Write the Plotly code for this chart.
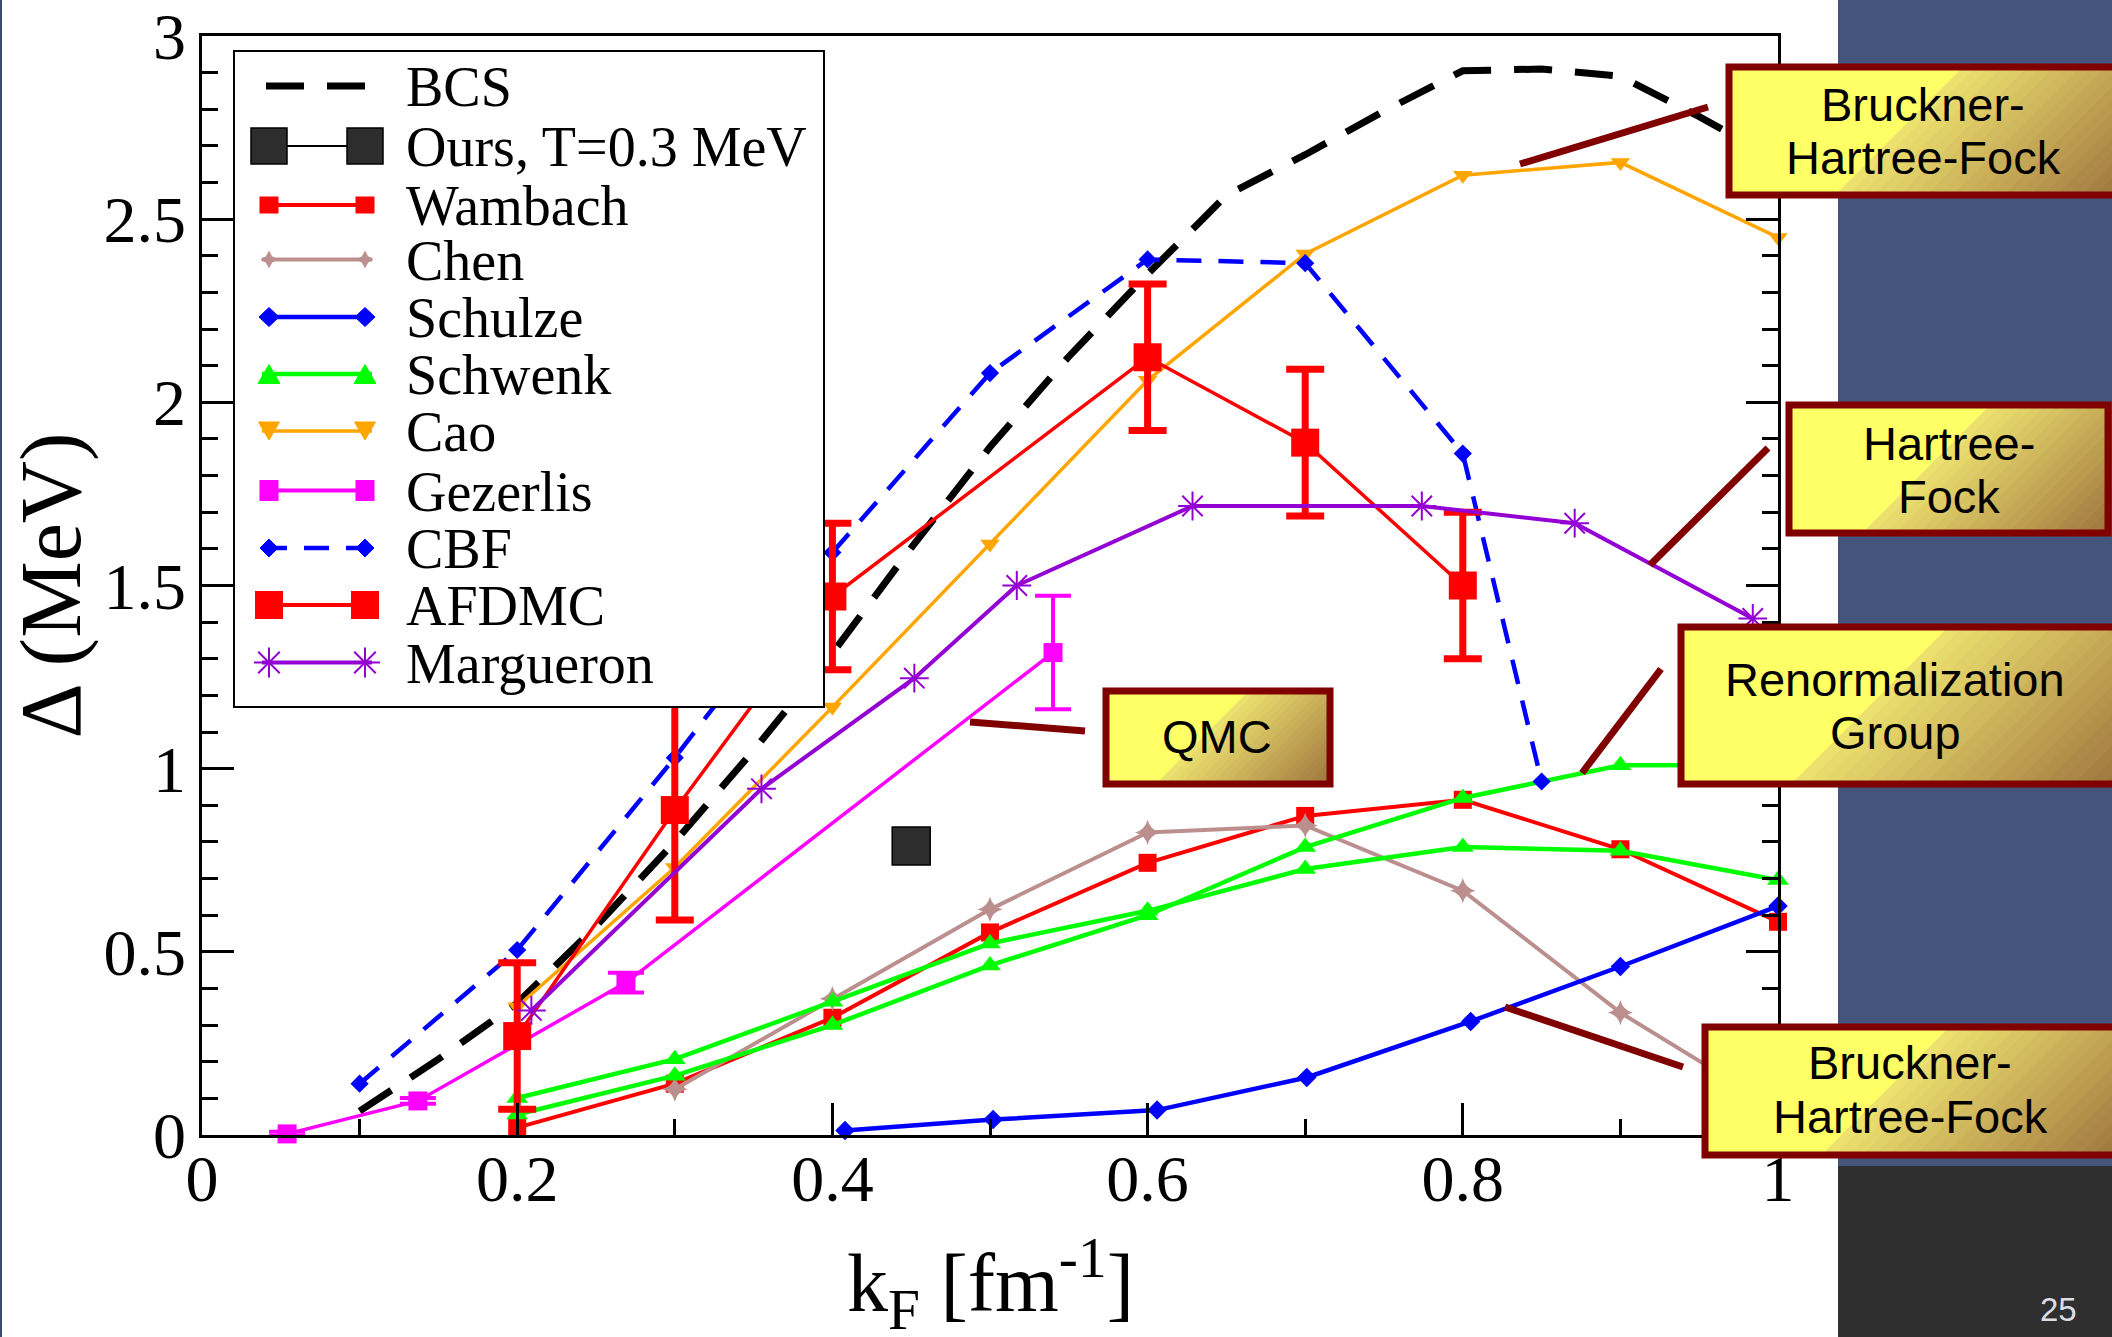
import plotly.graph_objects as go

# Neutron-matter pairing gap Delta (MeV) versus Fermi momentum k_F (fm^-1)

bcs_kf = [0.10, 0.15, 0.20, 0.25, 0.30, 0.35, 0.40, 0.45, 0.50, 0.55,
          0.60, 0.65, 0.70, 0.75, 0.80, 0.85, 0.90, 0.95, 1.00]
bcs_gap = [0.065, 0.207, 0.36, 0.57, 0.80, 1.05, 1.315, 1.603, 1.878, 2.125,
           2.35, 2.565, 2.676, 2.795, 2.905, 2.91, 2.89, 2.78, 2.66]

ours_kf = [0.45]
ours_gap = [0.789]

wambach_kf = [0.2, 0.3, 0.4, 0.5, 0.6, 0.7, 0.8, 0.9, 1.0]
wambach_gap = [0.02, 0.14, 0.32, 0.553, 0.743, 0.871, 0.915, 0.78, 0.582]

chen_kf = [0.3, 0.4, 0.5, 0.6, 0.7, 0.8, 0.9, 1.0]
chen_gap = [0.125, 0.372, 0.616, 0.826, 0.845, 0.667, 0.334, 0.07]

schulze_kf = [0.408, 0.502, 0.606, 0.701, 0.805, 0.9, 1.0]
schulze_gap = [0.012, 0.042, 0.068, 0.157, 0.31, 0.46, 0.625]

schwenk_kf = [0.2, 0.3, 0.4, 0.5, 0.6, 0.7, 0.8, 0.9, 1.0]
schwenk_gap_a = [0.101, 0.207, 0.364, 0.523, 0.612, 0.726, 0.786, 0.776, 0.696]
schwenk_gap_b = [0.056, 0.162, 0.30, 0.463, 0.600, 0.786, 0.92, 1.009, 1.01]

cao_kf = [0.2, 0.3, 0.4, 0.5, 0.6, 0.7, 0.8, 0.9, 1.0]
cao_gap = [0.35, 0.73, 1.168, 1.613, 2.06, 2.405, 2.62, 2.655, 2.45]

gezerlis_kf = [0.054, 0.137, 0.269, 0.54]
gezerlis_gap = [0.003, 0.093, 0.416, 1.317]
gezerlis_err = [0.006, 0.008, 0.027, 0.155]

cbf_kf = [0.1, 0.2, 0.3, 0.4, 0.5, 0.6, 0.7, 0.8, 0.85]
cbf_gap = [0.14, 0.505, 1.03, 1.59, 2.08, 2.39, 2.38, 1.86, 0.965]

afdmc_kf = [0.2, 0.3, 0.4, 0.6, 0.7, 0.8]
afdmc_gap = [0.27, 0.887, 1.47, 2.123, 1.89, 1.50]
afdmc_err = [0.2, 0.3, 0.2, 0.2, 0.2, 0.2]

margueron_kf = [0.209, 0.355, 0.452, 0.517, 0.6285, 0.774, 0.871, 0.984]
margueron_gap = [0.34, 0.945, 1.247, 1.50, 1.717, 1.717, 1.67, 1.41]

x_ticks = [0, 0.2, 0.4, 0.6, 0.8, 1]
x_tick_labels = ["0", "0.2", "0.4", "0.6", "0.8", "1"]
y_ticks = [0, 0.5, 1, 1.5, 2, 2.5, 3]
y_tick_labels = ["0", "0.5", "1", "1.5", "2", "2.5", "3"]

legend_names = ["BCS", "Ours, T=0.3 MeV", "Wambach", "Chen", "Schulze", "Schwenk",
                "Cao", "Gezerlis", "CBF", "AFDMC", "Margueron"]

method_labels = [
    ("Bruckner-", "Hartree-Fock"),
    ("Hartree-", "Fock"),
    ("Renormalization", "Group"),
    ("Bruckner-", "Hartree-Fock"),
    ("QMC",),
]

# ---------------------------------------------------------------- geometry
W, H = 2112, 1337
L, R, T, B = 202, 1778, 36, 1135
PW, PH = R - L, B - T
SERIF = "Liberation Serif"
SANS = "Liberation Sans"

RED, BLUE, GREEN = "#FF0000", "#0000FF", "#00FF00"
ORANGE, MAGENTA, BROWN, VIOLET = "#FFA500", "#FF00FF", "#BC8F8F", "#9400D3"
MAROON = "#800000"


def px(x):
    return (x - L) / PW


def py(y):
    return (B - y) / PH


fig = go.Figure()


def series(k, d, color, width, symbol=None, size=0, dash=None, err=None,
           err_thick=0, err_width=0, mline=0):
    kw = dict(x=k, y=d, cliponaxis=False, showlegend=False, hoverinfo="skip",
              line=dict(color=color, width=width, dash=dash))
    if symbol:
        kw["mode"] = "lines+markers"
        kw["marker"] = dict(symbol=symbol, size=size, color=color,
                            line=dict(color=color, width=mline))
    else:
        kw["mode"] = "lines"
    if err is not None:
        kw["error_y"] = dict(type="data", array=err, color=color,
                             thickness=err_thick, width=err_width)
    fig.add_trace(go.Scatter(**kw))


series(bcs_kf, bcs_gap, "black", 7, dash="38px,23px")
fig.add_trace(go.Scatter(x=ours_kf, y=ours_gap, mode="markers", cliponaxis=False,
                         showlegend=False, hoverinfo="skip",
                         marker=dict(symbol="square", size=38, color="#2d2d2d",
                                     line=dict(color="black", width=1.5))))
series(wambach_kf, wambach_gap, RED, 4, "square", 18)
series(chen_kf, chen_gap, BROWN, 4, "star-diamond", 18)
series(schulze_kf, schulze_gap, BLUE, 4.5, "diamond", 15)
series(schwenk_kf, schwenk_gap_a, GREEN, 4.5, "triangle-up", 19)
series(schwenk_kf, schwenk_gap_b, GREEN, 4.5, "triangle-up", 19)
series(cao_kf, cao_gap, ORANGE, 3.5, "triangle-down", 17)
series(gezerlis_kf, gezerlis_gap, MAGENTA, 3.5, "square", 19,
       err=gezerlis_err, err_thick=4, err_width=18)
series(cbf_kf, cbf_gap, BLUE, 4.5, "diamond", 14, dash="25px,17px")
series(afdmc_kf, afdmc_gap, RED, 3.5, "square", 28,
       err=afdmc_err, err_thick=7, err_width=19)
series(margueron_kf, margueron_gap, VIOLET, 4, "asterisk-open", 24, mline=2)

# ---------------------------------------------------------------- decorations
shapes = []

# slide background on the right and the thin frame on the left
shapes.append(dict(type="rect", xref="paper", yref="paper", x0=px(1838), x1=px(2120),
                   y0=py(1166), y1=py(-5), fillcolor="#43557B", line_width=0, layer="below"))
shapes.append(dict(type="rect", xref="paper", yref="paper", x0=px(1838), x1=px(2120),
                   y0=py(1345), y1=py(1166), fillcolor="#2F2F2F", line_width=0, layer="below"))
shapes.append(dict(type="rect", xref="paper", yref="paper", x0=px(-2), x1=px(2),
                   y0=py(1345), y1=py(-5), fillcolor="#3A4A6C", line_width=0, layer="below"))


def pix_rect(cx, cy, w, h, fill, lc=None, lw=0):
    return dict(type="rect", xref="paper", yref="paper", xsizemode="pixel",
                ysizemode="pixel", xanchor=px(cx), yanchor=py(cy),
                x0=-w / 2, x1=w / 2, y0=-h / 2, y1=h / 2, fillcolor=fill,
                line=dict(color=lc or fill, width=lw), layer="above")


def pix_path(cx, cy, path, fill, lc, lw):
    return dict(type="path", xref="paper", yref="paper", xsizemode="pixel",
                ysizemode="pixel", xanchor=px(cx), yanchor=py(cy), path=path,
                fillcolor=fill, line=dict(color=lc, width=lw), layer="above")


def diamond(w, h):
    return f"M0,{h/2} L{w/2},0 L0,{-h/2} L{-w/2},0 Z"


def tri_up(w, h):
    return f"M{-w/2},{-h/2} L{w/2},{-h/2} L0,{h/2} Z"


def tri_down(w, h):
    return f"M{-w/2},{h/2} L{w/2},{h/2} L0,{-h/2} Z"


def star4(r):
    q = r * 0.35
    return (f"M0,{r} L{q},{q} L{r},0 L{q},{-q} L0,{-r} L{-q},{-q} "
            f"L{-r},0 L{-q},{q} Z")


def asterisk(r):
    d = r * 0.72
    return (f"M{-r},0 L{r},0 M0,{-r} L0,{r} M{-d},{-d} L{d},{d} "
            f"M{-d},{d} L{d},{-d}")


# legend frame
shapes.append(dict(type="rect", xref="paper", yref="paper", x0=px(234), x1=px(824),
                   y0=py(707), y1=py(51), fillcolor="white",
                   line=dict(color="black", width=2), layer="above"))

rows_y = [86, 146, 205, 259.5, 317, 374, 431, 490.5, 548, 605, 662.5]
lx0, lx1 = 262, 372
mk = (269, 365)
line_styles = [
    ("black", 7, "38px,23px"), ("black", 2, None), (RED, 4, None),
    (BROWN, 4, None), (BLUE, 4.5, None), (GREEN, 4.5, None),
    (ORANGE, 3.5, None), (MAGENTA, 4, None), (BLUE, 4.5, "25px,17px"),
    (RED, 4, None), (VIOLET, 4, None),
]
for i, (ry, (c, w, dsh)) in enumerate(zip(rows_y, line_styles)):
    x0 = 266 if i == 0 else lx0
    x1 = 366 if i == 0 else lx1
    shapes.append(dict(type="line", xref="paper", yref="paper", x0=px(x0), x1=px(x1),
                       y0=py(ry), y1=py(ry), line=dict(color=c, width=w, dash=dsh),
                       layer="above"))
    for cx in mk:
        if i == 1:
            shapes.append(pix_rect(cx, ry, 36, 36, "#2d2d2d", "black", 1.5))
        elif i == 2:
            shapes.append(pix_rect(cx, ry, 19, 17, RED))
        elif i == 3:
            shapes.append(pix_path(cx, ry, star4(8), BROWN, BROWN, 1))
        elif i == 4:
            shapes.append(pix_path(cx, ry, diamond(20, 19), BLUE, BLUE, 1))
        elif i == 5:
            shapes.append(pix_path(cx, ry, tri_up(22, 19), GREEN, GREEN, 1))
        elif i == 6:
            shapes.append(pix_path(cx, ry, tri_down(21, 18), ORANGE, ORANGE, 1))
        elif i == 7:
            shapes.append(pix_rect(cx, ry, 19, 21, MAGENTA))
        elif i == 8:
            shapes.append(pix_path(cx, ry, diamond(18, 18), BLUE, BLUE, 1))
        elif i == 9:
            shapes.append(pix_rect(cx, ry, 28, 28, RED))
        elif i == 10:
            shapes.append(pix_path(cx, ry, asterisk(15), "rgba(0,0,0,0)", VIOLET, 2))

annotations = []
for name, ry in zip(legend_names, rows_y):
    annotations.append(dict(text=name, x=px(404), y=py(ry + 1), xref="paper",
                            yref="paper", xanchor="left", yanchor="middle",
                            showarrow=False, font=dict(family=SERIF, size=56, color="black")))

# leader lines from the method labels to the curves
leaders = [
    (1520, 164, 1708, 107),
    (1650, 565, 1768, 448),
    (1582, 773, 1661, 669),
    (1505, 1007, 1683, 1067),
    (970, 722, 1085, 731),
]
for x0, y0, x1, y1 in leaders:
    shapes.append(dict(type="line", xref="paper", yref="paper", x0=px(x0), y0=py(y0),
                       x1=px(x1), y1=py(y1), line=dict(color=MAROON, width=7),
                       layer="above"))


def mix(c0, c1, f):
    return "rgb(%d,%d,%d)" % tuple(round(a + (b - a) * f) for a, b in zip(c0, c1))


def clip_halfplane(poly, s):
    """Keep the part of a polygon where x + y >= s (pixel coordinates)."""
    out = []
    n = len(poly)
    for j in range(n):
        p, q = poly[j], poly[(j + 1) % n]
        fp, fq = p[0] + p[1] - s, q[0] + q[1] - s
        if fp >= 0:
            out.append(p)
        if (fp >= 0) != (fq >= 0):
            t = fp / (fp - fq)
            out.append((p[0] + t * (q[0] - p[0]), p[1] + t * (q[1] - p[1])))
    return out


def label_box(x0, y0, x1, y1, steps=22):
    shapes.append(dict(type="rect", xref="paper", yref="paper", x0=px(x0), x1=px(x1),
                       y0=py(y1), y1=py(y0), fillcolor="#FFFF66", line_width=0,
                       layer="above"))
    rect = [(x0, y0), (x1, y0), (x1, y1), (x0, y1)]
    s0, s1 = x0 + y0, x1 + y1
    c_start, c_end = (238, 226, 112), (158, 116, 62)
    for i in range(steps):
        t = 0.45 + 0.55 * i / steps
        poly = clip_halfplane(rect, s0 + t * (s1 - s0))
        if len(poly) < 3:
            continue
        path = "M" + " L".join(f"{px(a):.5f},{py(b):.5f}" for a, b in poly) + " Z"
        shapes.append(dict(type="path", xref="paper", yref="paper", path=path,
                           fillcolor=mix(c_start, c_end, (i + 0.5) / steps),
                           line_width=0, layer="above"))
    shapes.append(dict(type="rect", xref="paper", yref="paper", x0=px(x0), x1=px(x1),
                       y0=py(y1), y1=py(y0), fillcolor="rgba(0,0,0,0)",
                       line=dict(color=MAROON, width=7), layer="above"))


boxes = [
    (1729, 67, 2121, 195),
    (1789, 405, 2108, 533),
    (1681, 627, 2118, 784),
    (1705, 1027, 2120, 1155),
    (1106, 691, 1330, 784),
]
label_pos = [
    (1923, (120.5, 174)),
    (1949, (460, 513)),
    (1895, (696, 749)),
    (1910, (1079, 1133)),
    (1217, (753,)),
]
for (bx0, by0, bx1, by1), lines, (cx, baselines) in zip(boxes, method_labels, label_pos):
    label_box(bx0, by0, bx1, by1)
    for txt, base in zip(lines, baselines):
        annotations.append(dict(text=txt, x=px(cx), y=py(base - 16.3), xref="paper",
                                yref="paper", xanchor="center", yanchor="middle",
                                showarrow=False,
                                font=dict(family=SANS, size=47, color="black")))

# axis titles and slide number
annotations.append(dict(text="Δ (MeV)", x=px(50), y=0.5, xref="paper", yref="paper",
                        textangle=-90, xanchor="center", yanchor="middle",
                        showarrow=False, font=dict(family=SERIF, size=86, color="black")))
annotations.append(dict(text="k<sub>F</sub> [fm<sup>-1</sup>]", x=px(990), y=py(1283),
                        xref="paper", yref="paper", xanchor="center", yanchor="middle",
                        showarrow=False, font=dict(family=SERIF, size=82, color="black")))
annotations.append(dict(text="25", x=px(2058), y=py(1309), xref="paper", yref="paper",
                        xanchor="center", yanchor="middle", showarrow=False,
                        font=dict(family=SANS, size=33, color="#DCDCE6")))

axis_common = dict(showline=True, linecolor="black", linewidth=2.5, ticks="inside",
                   ticklen=32, tickwidth=2.5, tickcolor="black", showgrid=False,
                   zeroline=False, automargin=False,
                   tickfont=dict(family=SERIF, size=66, color="black"),
                   minor=dict(ticks="inside", ticklen=16, tickwidth=2.5,
                              tickcolor="black", showgrid=False))

fig.update_layout(
    width=W, height=H,
    margin=dict(l=L, r=W - R, t=T, b=H - B, pad=0, autoexpand=False),
    paper_bgcolor="white", plot_bgcolor="white",
    showlegend=False,
    xaxis=dict(range=[0, 1], tickmode="array", tickvals=x_ticks, ticktext=x_tick_labels,
               mirror=True, ticklabelstandoff=-16, **axis_common),
    yaxis=dict(range=[0, 3], tickmode="array", tickvals=y_ticks, ticktext=y_tick_labels,
               mirror="ticks", **axis_common),
    shapes=shapes,
    annotations=annotations,
)
fig.update_xaxes(minor_dtick=0.1, minor_tick0=0)
fig.update_yaxes(minor_dtick=0.1, minor_tick0=0)

fig.write_html("out.html")
